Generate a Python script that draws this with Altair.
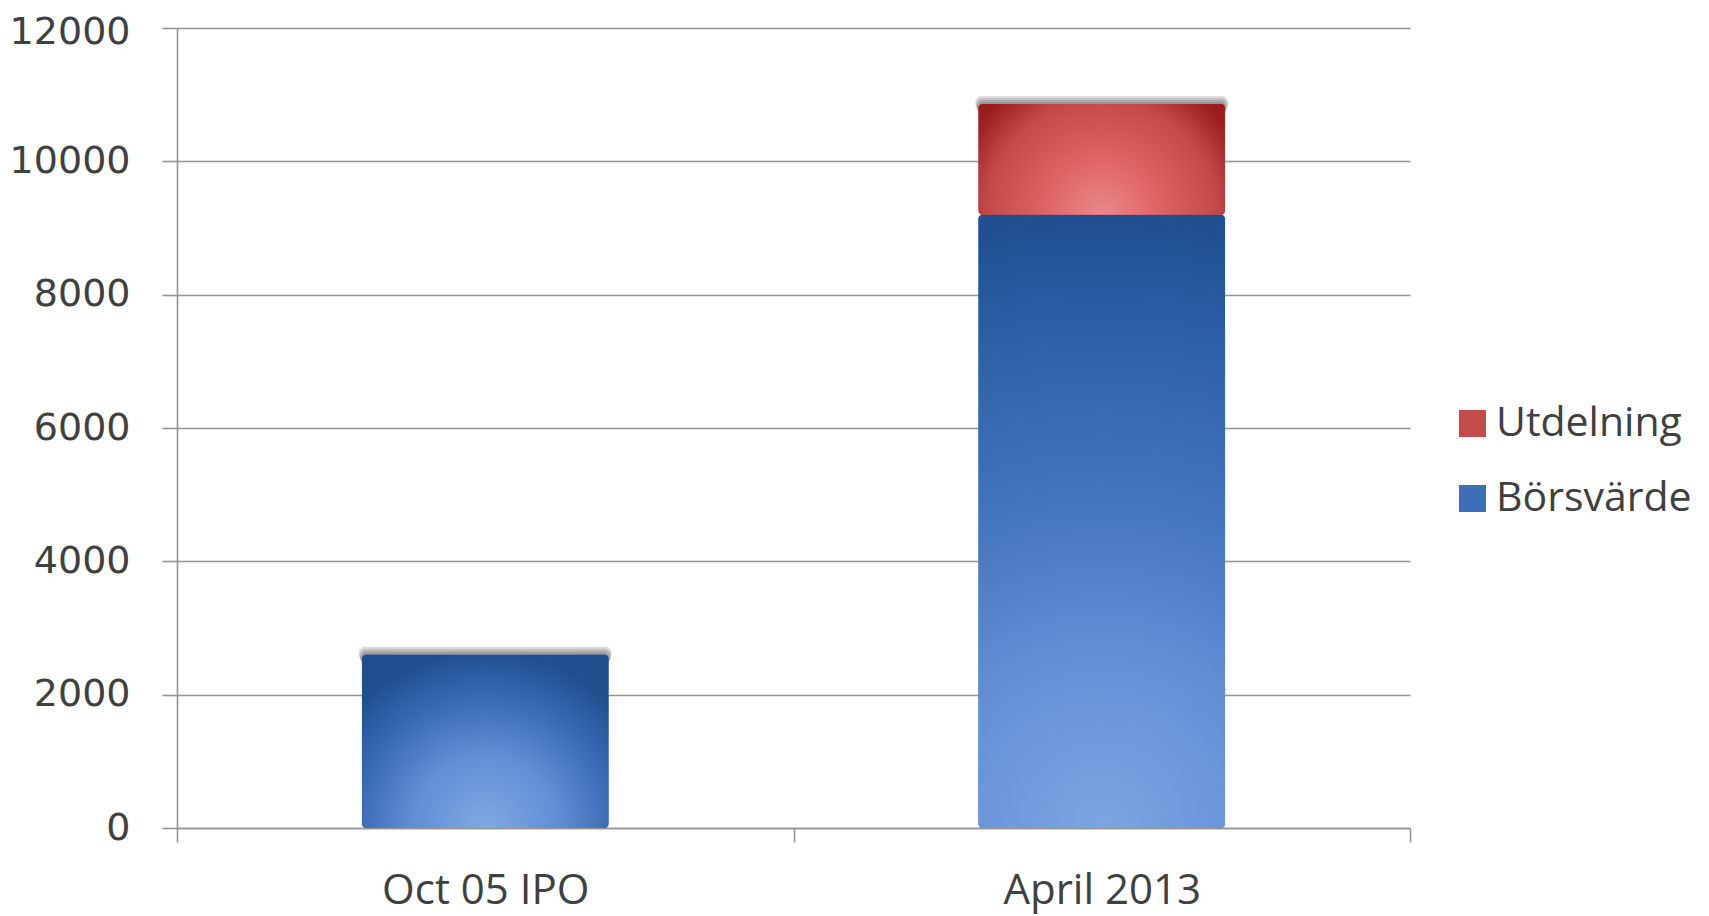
import altair as alt
import pandas as pd

# ---- data ----
categories = ["Oct 05 IPO", "April 2013"]
series_names = ["Utdelning", "Börsvärde"]   # legend order
borsvarde = [2600, 9200]
utdelning = [0, 1660]
y_ticks = [0, 2000, 4000, 6000, 8000, 10000, 12000]

rows = []
for c, b, u in zip(categories, borsvarde, utdelning):
    rows.append({"category": c, "series": "Börsvärde", "value": b, "order": 0})
    rows.append({"category": c, "series": "Utdelning", "value": u, "order": 1})
df = pd.DataFrame(rows)

FONT = "Open Sans"
GRID = "#939393"
TEXT = "#404040"
BAR_W = alt.RelativeBandSize(0.4)

x_enc = alt.X(
    "category:N", sort=categories, title=None,
    scale=alt.Scale(paddingInner=0, paddingOuter=0),
    axis=alt.Axis(labelAngle=0, tickBand="extent", tickSize=14, labelPadding=28,
                  labelFontSize=42, labelLimit=0, grid=False, domain=True, ticks=True),
)
y_axis = alt.Axis(values=y_ticks, format="d", grid=True, tickSize=15, labelPadding=32,
                  labelFontSize=38, labelFont="DejaVu Sans", labelOverlap=False,
                  labelOffset={"expr": "datum.value == 12000 ? 4 : 0"},
                  domain=True, ticks=True)
y_scale = alt.Scale(domain=[0, 12000], nice=False)

base = (
    alt.Chart(df)
    .transform_filter("datum.value > 0")
    .transform_stack(stack="value", as_=["y0", "y1"], groupby=["category"],
                     sort=[alt.SortField("order", order="ascending")])
)

# soft shadow around the top of each stack
tot = base.transform_aggregate(top="max(y1)", groupby=["category"])
shadows = [
    tot.mark_bar(color="#303030", opacity=0.16, yOffset=-k, y2Offset=14 - k, cornerRadius=6,
                 width=246.5 + 0.8 * k).encode(
        x=x_enc, y=alt.Y("top:Q", scale=y_scale, axis=y_axis, title=None), y2="top:Q"
    )
    for k in [2, 4, 6, 8]
]

solid = base.mark_bar(cornerRadius=4, width=BAR_W).encode(
    x=x_enc,
    y=alt.Y("y1:Q", scale=y_scale, axis=y_axis, title=None),
    y2="y0:Q",
    color=alt.Color(
        "series:N",
        scale=alt.Scale(domain=series_names, range=["#c44c4b", "#3d6fb8"]),
        legend=alt.Legend(orient="none", legendX=1275, legendY=375, title=None,
                          symbolType="square", symbolSize=729, labelFontSize=41,
                          labelFont=FONT, labelColor=TEXT, rowPadding=33, labelOffset=3,
                          labelLimit=0, symbolStrokeWidth=0, padding=0),
    ),
)


def stops(pairs):
    return [alt.GradientStop(offset=o, color=c) for o, c in pairs]


grad_ipo = alt.RadialGradient(
    gradient="radial", x1=0.5, y1=0.85, r1=0, x2=0.5, y2=0.85, r2=0.72,
    stops=stops([(0, "#80a8e3"), (0.4, "#6190d6"), (0.75, "#3767b0"), (1, "#1f4f90")]),
)
grad_tall = alt.RadialGradient(
    gradient="radial", x1=0.5, y1=1.0, r1=0, x2=0.5, y2=1.0, r2=1.0,
    stops=stops([(0, "#7ca5e2"), (0.25, "#6692d8"), (0.55, "#4373bd"), (0.85, "#2a5ca3"), (1, "#1f4f90")]),
)
grad_red = alt.RadialGradient(
    gradient="radial", x1=0.5, y1=0.724, r1=0, x2=0.5, y2=0.724, r2=0.62,
    stops=stops([(0, "#e88a8a"), (0.35, "#e06666"), (0.75, "#c44a4a"), (1, "#9a1c1c")]),
)


def grad_layer(series, cat, grad):
    return (
        base.transform_filter(alt.datum.series == series)
        .transform_filter(alt.datum.category == cat)
        .mark_bar(color=grad, cornerRadius=4, width=BAR_W)
        .encode(x=x_enc, y=alt.Y("y1:Q", scale=y_scale, axis=y_axis, title=None), y2="y0:Q")
    )


layers = shadows + [
    solid,
    grad_layer("Börsvärde", "Oct 05 IPO", grad_ipo),
    grad_layer("Börsvärde", "April 2013", grad_tall),
    grad_layer("Utdelning", "April 2013", grad_red),
]

chart = (
    alt.layer(*layers)
    .properties(width=1233, height=800, autosize=alt.AutoSizeParams(type="none"),
                padding={"left": 169, "top": 20, "right": 290, "bottom": 88})
    .configure_view(stroke=None)
    .configure_axis(labelFont=FONT, labelColor=TEXT, domainColor=GRID, tickColor=GRID,
                    gridColor=GRID, domainWidth=1.6, tickWidth=1.6, gridWidth=1.6)
)

chart.save("out.html", embed_options={"renderer": "svg", "actions": False})
